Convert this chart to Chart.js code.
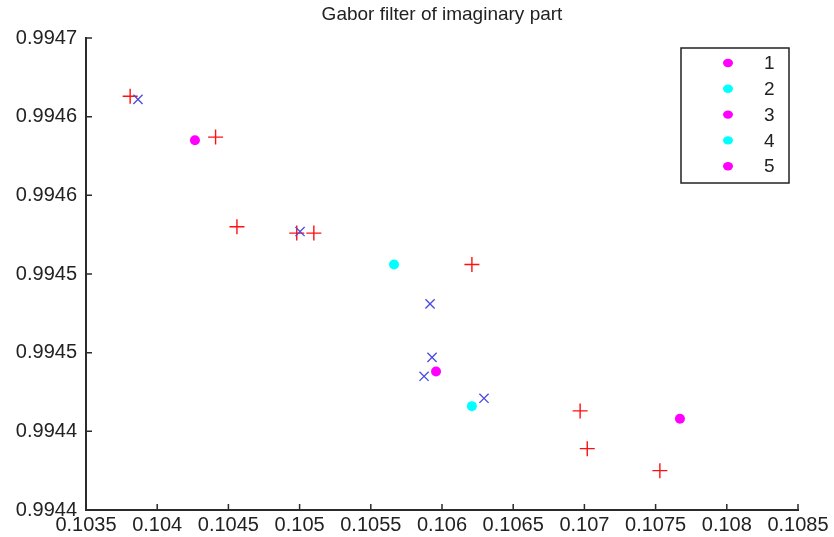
<!DOCTYPE html>
<html>
<head>
<meta charset="utf-8">
<script src="https://cdn.jsdelivr.net/npm/chart.js@4/dist/chart.umd.min.js"></script>
<style>
    html, body { margin: 0; padding: 0; background: #fff; }
    #wrap { width: 834px; height: 537px; }
</style>
</head>
<body>
<div id="wrap"><canvas id="mychart" width="834" height="537"></canvas></div>
<script>
const titleText = 'Gabor filter of imaginary part';

// tick values and the labels matlab printed for them
const xTicks = [0.1035, 0.104, 0.1045, 0.105, 0.1055, 0.106, 0.1065, 0.107, 0.1075, 0.108, 0.1085];
const xTickLabels = ['0.1035', '0.104', '0.1045', '0.105', '0.1055', '0.106', '0.1065', '0.107', '0.1075', '0.108', '0.1085'];
const yTicks = [0.9944, 0.99445, 0.9945, 0.99455, 0.9946, 0.99465, 0.9947];
const yTickLabels = ['0.9944', '0.9944', '0.9945', '0.9945', '0.9946', '0.9946', '0.9947'];

// classes 1..5 (filled dots)
const classLabels = ['1', '2', '3', '4', '5'];
const classColors = ['#ff00ff', '#00ffff', '#ff00ff', '#00ffff', '#ff00ff'];
const classX = [0.104265, 0.105663, 0.105958, 0.10621, 0.107671];
const classY = [0.994635, 0.994556, 0.994488, 0.994466, 0.994458];

// red + markers
const plusX = [0.10381, 0.10441, 0.10456, 0.10498, 0.10510, 0.10621, 0.10697, 0.10702, 0.10753];
const plusY = [0.994663, 0.994637, 0.994580, 0.994576, 0.994576, 0.994556, 0.994463, 0.994439, 0.994425];

// blue x markers
const crossX = [0.103865, 0.105003, 0.105916, 0.10593, 0.105874, 0.106295];
const crossY = [0.994661, 0.994577, 0.994531, 0.994497, 0.994485, 0.994471];

const fontFamily = '"Liberation Sans", Arial, sans-serif';
const axisColor = '#2b2b2b';

function toPoints(xs, ys) {
    return xs.map((x, i) => ({ x: x, y: ys[i] }));
}

var datasets = [];
classLabels.forEach((lbl, i) => {
    datasets.push({
        label: lbl,
        data: [{ x: classX[i], y: classY[i] }],
        pointStyle: 'circle',
        pointRadius: 5,
        pointBackgroundColor: classColors[i],
        pointBorderColor: classColors[i],
        pointBorderWidth: 0,
        order: 1,
        inLegend: true
    });
});
datasets.push({
    label: 'plus',
    data: toPoints(plusX, plusY),
    pointStyle: 'cross',
    pointRadius: 7.5,
    pointBorderColor: '#ff1010',
    pointBorderWidth: 1.4,
    order: 3
});
datasets.push({
    label: 'x',
    data: toPoints(crossX, crossY),
    pointStyle: 'crossRot',
    pointRadius: 6.5,
    pointBorderColor: '#4a4ae0',
    pointBorderWidth: 1.3,
    order: 2
});

// matlab style ticks pointing inwards
const innerTicks = {
    id: 'innerTicks',
    afterDraw(chart) {
        const ctx = chart.ctx;
        const area = chart.chartArea;
        const xs = chart.scales.x;
        const ys = chart.scales.y;
        ctx.save();
        ctx.strokeStyle = axisColor;
        ctx.lineWidth = 1.5;
        ctx.beginPath();
        xs.ticks.forEach(t => {
            const px = xs.getPixelForValue(t.value);
            ctx.moveTo(px, area.bottom);
            ctx.lineTo(px, area.bottom - 6);
        });
        ys.ticks.forEach(t => {
            const py = ys.getPixelForValue(t.value);
            ctx.moveTo(area.left, py);
            ctx.lineTo(area.left + 6, py);
        });
        ctx.stroke();

        // title centred over the axes
        ctx.fillStyle = '#222';
        ctx.font = '19px ' + fontFamily;
        ctx.textAlign = 'center';
        ctx.textBaseline = 'middle';
        ctx.fillText(titleText, (area.left + area.right) / 2, 15);
        ctx.restore();
    }
};

// boxed legend in the top right corner
const boxLegend = {
    id: 'boxLegend',
    afterDraw(chart) {
        const ctx = chart.ctx;
        const area = chart.chartArea;
        const items = chart.data.datasets.filter(d => d.inLegend);
        const w = 108, rowH = 25.8;
        const right = area.right - 9;
        const top = area.top + 10;
        const h = items.length * rowH + 6;
        ctx.save();
        ctx.fillStyle = '#fff';
        ctx.fillRect(right - w, top, w, h);
        ctx.strokeStyle = '#222';
        ctx.lineWidth = 1.5;
        ctx.strokeRect(right - w, top, w, h);
        ctx.font = '19px ' + fontFamily;
        ctx.textBaseline = 'middle';
        ctx.textAlign = 'left';
        items.forEach((d, i) => {
            const cy = top + 15 + i * rowH;
            ctx.fillStyle = d.pointBackgroundColor;
            ctx.beginPath();
            ctx.ellipse(right - w + 47, cy, 5, 4.2, 0, 0, Math.PI * 2);
            ctx.fill();
            ctx.fillStyle = '#222';
            ctx.fillText(d.label, right - w + 83, cy + 1);
        });
        ctx.restore();
    }
};

var myChart = new Chart(document.getElementById('mychart'), {
    type: 'scatter',
    data: { datasets: datasets },
    options: {
        responsive: false,
        animation: false,
        layout: { padding: { top: 38, right: 36, left: 0, bottom: 0 } },
        plugins: {
            legend: { display: false },
            title: { display: false },
            tooltip: { enabled: false }
        },
        scales: {
            x: {
                type: 'linear',
                min: 0.1035,
                max: 0.1085,
                afterBuildTicks: scale => { scale.ticks = xTicks.map(v => ({ value: v })); },
                afterFit: scale => { scale.height = 27; },
                grid: { display: false, drawTicks: false },
                border: { display: true, color: axisColor, width: 2 },
                ticks: {
                    autoSkip: false,
                    maxRotation: 0,
                    padding: 3,
                    color: '#222',
                    font: { family: fontFamily, size: 20 },
                    callback: (v, i) => xTickLabels[i]
                }
            },
            y: {
                type: 'linear',
                min: 0.9944,
                max: 0.9947,
                afterBuildTicks: scale => { scale.ticks = yTicks.map(v => ({ value: v })); },
                afterFit: scale => { scale.width = 86; },
                grid: { display: false, drawTicks: false },
                border: { display: true, color: axisColor, width: 2 },
                ticks: {
                    autoSkip: false,
                    padding: 9,
                    color: '#222',
                    font: { family: fontFamily, size: 20 },
                    callback: (v, i) => yTickLabels[i]
                }
            }
        }
    },
    plugins: [innerTicks, boxLegend]
});
</script>
</body>
</html>
